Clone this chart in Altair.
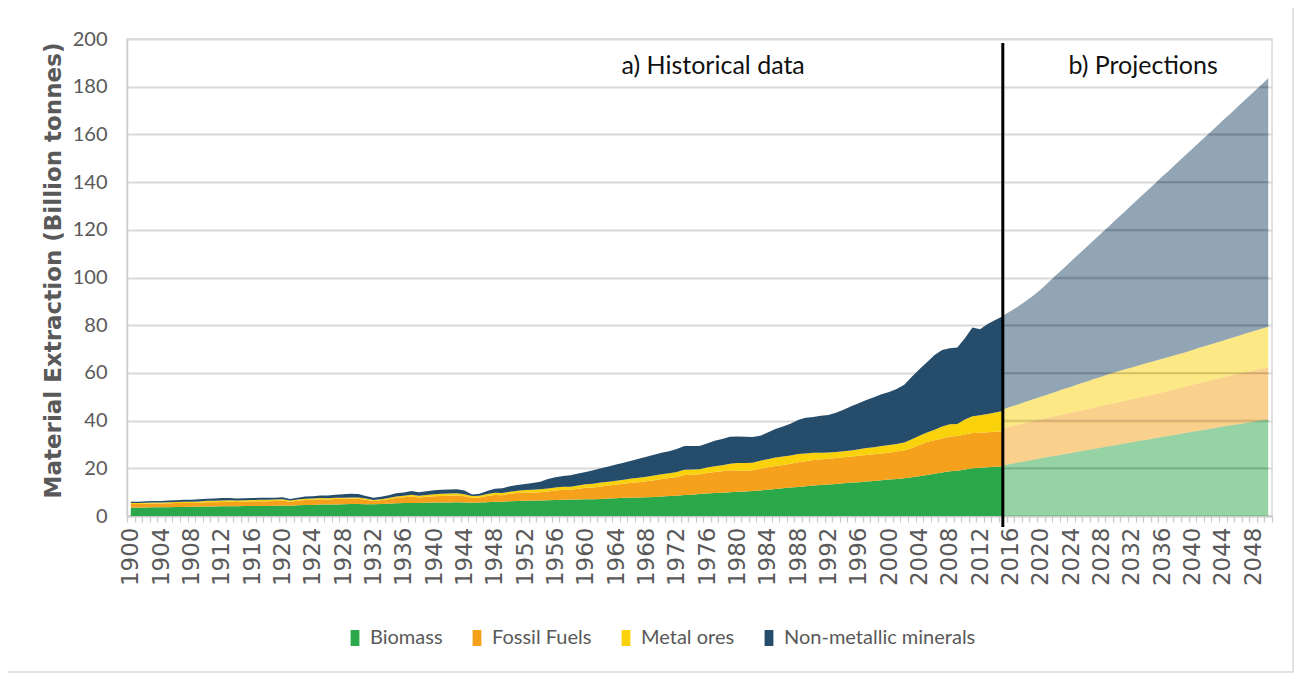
import altair as alt
import pandas as pd

# ---------------- data (stack tops, billion tonnes) ----------------
hist_years = list(range(1900, 2016))
proj_years = list(range(2015, 2051))

series = ["Biomass", "Fossil Fuels", "Metal ores", "Non-metallic minerals"]
colors = ["#2BA84A", "#F5A11C", "#F9D20B", "#264C6C"]

biomass_top = [
    3.6, 3.6, 3.6, 3.7, 3.7, 3.7, 3.8, 3.8, 3.9, 3.9,
    4.0, 4.0, 4.1, 4.1, 4.1, 4.2, 4.2, 4.2, 4.2, 4.3,
    4.4, 4.3, 4.5, 4.6, 4.6, 4.8, 4.8, 4.8, 4.9, 5.0,
    5.0, 4.9, 4.9, 5.0, 5.1, 5.3, 5.4, 5.5, 5.5, 5.6,
    5.7, 5.7, 5.7, 5.8, 5.7, 5.6, 5.7, 5.8, 6.0, 6.0,
    6.2, 6.3, 6.4, 6.5, 6.5, 6.6, 6.7, 6.8, 6.9, 6.9,
    7.0, 7.0, 7.1, 7.3, 7.4, 7.6, 7.7, 7.8, 7.9, 8.0,
    8.2, 8.4, 8.5, 8.8, 8.9, 9.2, 9.4, 9.6, 9.8, 10.0,
    10.2, 10.3, 10.5, 10.7, 11.0, 11.3, 11.6, 11.9, 12.2, 12.5,
    12.8, 13.0, 13.2, 13.4, 13.7, 14.0, 14.2, 14.5, 14.7, 15.0,
    15.3, 15.5, 15.8, 16.2, 16.7, 17.2, 17.7, 18.2, 18.8, 19.0,
    19.5, 20.0, 20.2, 20.4, 20.6, 20.8,
]
fossil_top = [
    5.0, 5.0, 5.1, 5.2, 5.2, 5.3, 5.4, 5.5, 5.5, 5.6,
    5.8, 5.8, 5.9, 6.0, 5.9, 6.0, 6.1, 6.2, 6.2, 6.3,
    6.5, 6.0, 6.4, 6.7, 6.8, 7.0, 6.9, 7.1, 7.2, 7.3,
    7.2, 6.8, 6.3, 6.6, 7.0, 7.6, 7.9, 8.2, 7.8, 8.1,
    8.3, 8.4, 8.5, 8.6, 8.3, 7.7, 7.8, 8.4, 8.8, 8.7,
    9.3, 9.6, 9.8, 9.9, 10.0, 10.3, 10.7, 11.0, 11.0, 11.4,
    11.8, 12.0, 12.4, 12.8, 13.1, 13.5, 13.9, 14.2, 14.6, 15.0,
    15.5, 15.9, 16.4, 17.2, 17.3, 17.5, 18.0, 18.5, 18.8, 19.2,
    19.0, 19.0, 19.2, 19.8, 20.4, 21.0, 21.4, 21.9, 22.5, 23.0,
    23.5, 23.7, 24.0, 24.3, 24.6, 25.0, 25.3, 25.6, 25.9, 26.2,
    26.5, 27.0, 27.5, 28.5, 29.8, 31.0, 31.8, 32.5, 33.3, 33.5,
    34.2, 34.8, 34.9, 35.1, 35.3, 35.5,
]
metal_top = [
    5.5, 5.5, 5.6, 5.7, 5.7, 5.8, 5.9, 6.0, 6.0, 6.1,
    6.4, 6.4, 6.5, 6.6, 6.5, 6.6, 6.7, 6.8, 6.8, 6.9,
    7.0, 6.5, 6.9, 7.2, 7.3, 7.5, 7.4, 7.6, 7.7, 7.8,
    7.8, 7.3, 6.7, 7.0, 7.5, 8.2, 8.5, 8.9, 8.5, 8.8,
    9.1, 9.3, 9.4, 9.5, 9.1, 8.4, 8.5, 9.2, 9.7, 9.6,
    10.2, 10.6, 10.9, 11.0, 11.2, 11.5, 12.0, 12.3, 12.3, 12.8,
    13.3, 13.5, 14.0, 14.4, 14.8, 15.2, 15.7, 16.0, 16.5, 17.0,
    17.5, 17.9, 18.5, 19.4, 19.5, 19.6, 20.3, 20.9, 21.3, 21.9,
    22.2, 22.2, 22.3, 23.2, 23.8, 24.5, 24.9, 25.4, 26.0, 26.2,
    26.5, 26.5, 26.6, 26.8, 27.1, 27.5, 28.0, 28.5, 28.8, 29.3,
    29.8, 30.2, 30.8, 32.2, 33.7, 35.0, 36.2, 37.5, 38.5, 38.6,
    40.5, 41.8, 42.2, 42.8, 43.4, 44.0,
]
total_top = [
    6.0, 6.0, 6.2, 6.3, 6.3, 6.5, 6.6, 6.8, 6.8, 7.0,
    7.2, 7.3, 7.5, 7.5, 7.3, 7.4, 7.5, 7.6, 7.6, 7.6,
    7.9, 7.1, 7.6, 8.2, 8.3, 8.6, 8.6, 8.9, 9.1, 9.3,
    9.2, 8.4, 7.6, 8.1, 8.7, 9.5, 9.9, 10.5, 10.0, 10.4,
    10.8, 11.0, 11.1, 11.2, 10.7, 9.0, 9.3, 10.5, 11.4, 11.6,
    12.5, 13.0, 13.4, 13.8, 14.4, 15.5, 16.2, 16.8, 17.1, 17.8,
    18.5, 19.2, 20.0, 20.8, 21.6, 22.3, 23.2, 24.0, 24.8, 25.7,
    26.5, 27.2, 28.1, 29.4, 29.3, 29.3, 30.4, 31.5, 32.3, 33.2,
    33.3, 33.2, 33.1, 33.6, 35.0, 36.5, 37.5, 38.7, 40.3, 41.2,
    41.5, 42.0, 42.4, 43.3, 44.6, 46.0, 47.3, 48.6, 49.8, 51.0,
    52.0, 53.3, 55.0, 58.4, 61.5, 64.5, 67.5, 69.6, 70.3, 70.7,
    74.5, 79.0, 78.3, 80.5, 82.2, 83.8,
]

proj_biomass_top = [
    21.2, 21.8, 22.4, 23.0, 23.6, 24.2, 24.8, 25.3, 25.9, 26.4,
    27.0, 27.6, 28.1, 28.7, 29.2, 29.8, 30.4, 30.9, 31.5, 32.0,
    32.6, 33.1, 33.7, 34.2, 34.8, 35.3, 35.8, 36.4, 36.9, 37.5,
    38.0, 38.5, 39.0, 39.5, 40.0, 40.5,
]
proj_fossil_top = [
    36.8, 37.5, 38.3, 39.0, 39.8, 40.5, 41.2, 41.9, 42.6, 43.3,
    44.0, 44.7, 45.4, 46.1, 46.8, 47.5, 48.2, 48.9, 49.6, 50.3,
    51.0, 51.8, 52.6, 53.4, 54.2, 55.0, 55.8, 56.5, 57.3, 58.0,
    58.8, 59.5, 60.2, 60.9, 61.6, 62.3,
]
proj_metal_top = [
    44.7, 45.8, 46.8, 47.9, 48.9, 50.0, 51.1, 52.1, 53.2, 54.2,
    55.3, 56.3, 57.4, 58.4, 59.5, 60.5, 61.4, 62.3, 63.2, 64.1,
    65.0, 65.9, 66.8, 67.7, 68.6, 69.6, 70.6, 71.6, 72.5, 73.5,
    74.5, 75.5, 76.5, 77.5, 78.4, 79.4,
]
proj_total_top = [
    84.0, 85.8, 87.8, 90.0, 92.4, 95.0, 97.9, 100.9, 103.8, 106.8,
    109.7, 112.7, 115.6, 118.6, 121.5, 124.5, 127.4, 130.4, 133.3, 136.3,
    139.2, 142.2, 145.1, 148.1, 151.0, 154.0, 156.9, 159.9, 162.8, 165.8,
    168.7, 171.7, 174.6, 177.6, 180.5, 183.5,
]

x_label_years = list(range(1900, 2049, 4))
y_ticks = list(range(0, 201, 20))
divider_year = [2015]
annotations = ["a) Historical data", "b) Projections"]
annotation_year = [1976.8, 2033.5]
annotation_value = [188.7, 188.7]


def bands(years, tops):
    rows = []
    prev = [0.0] * len(years)
    for i, (name, top) in enumerate(zip(series, tops)):
        for yr, lo, hi in zip(years, prev, top):
            rows.append({"year": yr, "series": name, "lo": lo, "hi": hi, "k": i})
        prev = top
    return pd.DataFrame(rows)


hist_df = bands(hist_years, [biomass_top, fossil_top, metal_top, total_top])
proj_df = bands(proj_years, [proj_biomass_top, proj_fossil_top, proj_metal_top, proj_total_top])


# where each gridline enters the translucent projection area (grid shows through it)
def grid_start(g):
    for i in range(1, len(proj_years)):
        a, b = proj_total_top[i - 1], proj_total_top[i]
        if b >= g:
            if a >= g:
                return float(proj_years[i - 1])
            return proj_years[i - 1] + (g - a) / (b - a)
    return None


grid_rows = []
for g in y_ticks[1:-1]:
    s = grid_start(g)
    if s is not None:
        grid_rows.append({"g": g, "start": s, "end": float(proj_years[-1])})
grid_df = pd.DataFrame(grid_rows)

GRAY = "#595959"
SANS = "Lato"

x_scale = alt.Scale(domain=[1899.5, 2050.5], nice=False, zero=False)
y_scale = alt.Scale(domain=[0, 200], nice=False)
color_scale = alt.Scale(domain=series, range=colors)

label_axis = alt.Axis(
    orient="bottom", values=x_label_years, format="d", labelAngle=270,
    labelFont="DejaVu Sans", labelFontSize=23, labelColor=GRAY, labelPadding=11,
    labelOverlap=False, ticks=False, grid=False, domain=True,
    domainColor="#c8c8c8", domainWidth=1.5, title=None,
)
tick_axis = alt.Axis(
    orient="bottom", values=[y + 0.5 for y in range(1899, 2051)], labels=False,
    ticks=True, tickSize=6, tickColor="#c8c8c8", tickWidth=1.2,
    grid=False, domain=False, title=None,
)
y_axis = alt.Axis(
    orient="left", values=y_ticks, grid=True, gridColor="#d9d9d9", gridWidth=2,
    domain=True, domainColor="#d0d0d0", domainWidth=1.5, ticks=False,
    labelFont=SANS, labelFontSize=20, labelColor=GRAY, labelPadding=20,
    title="Material Extraction (Billion tonnes)", titleFont="DejaVu Sans",
    titleFontWeight="bold", titleFontSize=23, titleColor=GRAY,
    titleX=-74, titleY=231, titleAngle=270, titleAlign="center", titleBaseline="middle",
)

legend = alt.Legend(
    orient="none", legendX=218, legendY=589, direction="horizontal", title=None,
    symbolType="M-0.55,-1H0.55V1H-0.55Z", symbolSize=256, symbolOpacity=1,
    symbolStrokeWidth=0, labelFont=SANS, labelFontSize=20, labelColor=GRAY,
    labelOffset=5, columnPadding=24, labelLimit=400, padding=0,
)

frame = alt.Chart(pd.DataFrame({"k": [0]})).mark_rect(
    fillOpacity=0, stroke="#d9d9d9", strokeWidth=1.5
).encode(
    x=alt.value(-122), x2=alt.value(1166), y=alt.value(-33), y2=alt.value(633)
)

hist = alt.Chart(hist_df).mark_area(interpolate="linear").encode(
    x=alt.X("year:Q", scale=x_scale, axis=label_axis),
    y=alt.Y("hi:Q", scale=y_scale, axis=y_axis),
    y2="lo:Q",
    color=alt.Color("series:N", scale=color_scale, legend=legend),
    order=alt.Order("k:Q"),
)

proj = alt.Chart(proj_df).mark_area(interpolate="linear", opacity=0.5).encode(
    x=alt.X("year:Q", scale=x_scale, axis=None),
    y=alt.Y("hi:Q", scale=y_scale, axis=None),
    y2="lo:Q",
    color=alt.Color("series:N", scale=color_scale, legend=None),
    order=alt.Order("k:Q"),
)

grid_over = alt.Chart(grid_df).mark_rule(color="#000000", opacity=0.1, strokeWidth=2).encode(
    x=alt.X("start:Q", scale=x_scale, axis=None),
    x2="end:Q",
    y=alt.Y("g:Q", scale=y_scale, axis=None),
)

rule = alt.Chart(pd.DataFrame({"year": divider_year, "hi": [198.3], "lo": [-4.6]})).mark_rule(
    color="black", strokeWidth=3
).encode(
    x=alt.X("year:Q", scale=x_scale, axis=tick_axis),
    y=alt.Y("hi:Q", scale=y_scale, axis=None),
    y2="lo:Q",
)

text = alt.Chart(pd.DataFrame({"label": annotations, "year": annotation_year, "hi": annotation_value})).mark_text(
    font=SANS, fontSize=25, color="#111111", align="center", baseline="middle"
).encode(
    x=alt.X("year:Q", scale=x_scale, axis=None),
    y=alt.Y("hi:Q", scale=y_scale, axis=None),
    text="label:N",
)

chart = alt.layer(frame, hist, proj, grid_over, rule, text).resolve_scale(
    x="shared", y="shared", color="shared"
).resolve_axis(x="independent", y="independent").properties(
    width=1145, height=477,
    padding={"left": 119, "top": 31, "right": 23, "bottom": 158},
    autosize=alt.AutoSizeParams(type="none"),
    background="white",
).configure_view(stroke="#d9d9d9", strokeWidth=1.5)

chart.save("out.html", embed_options={"renderer": "svg", "actions": False})
